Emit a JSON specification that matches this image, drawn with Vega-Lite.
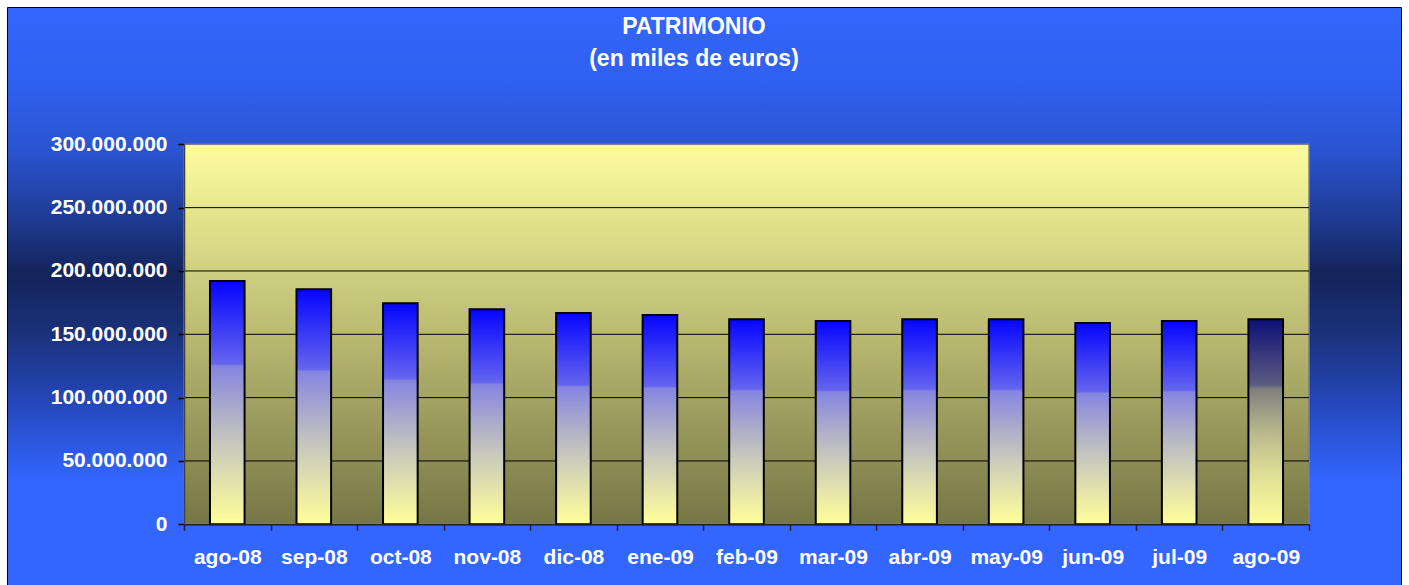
{
  "$schema": "https://vega.github.io/schema/vega-lite/v6.json",
  "width": 1394,
  "height": 578,
  "autosize": {"type": "none"},
  "padding": {"left": 7, "top": 7, "right": 8, "bottom": 0},
  "background": "white",
  "title": {
    "text": "PATRIMONIO",
    "subtitle": "(en miles de euros)",
    "anchor": "middle",
    "orient": "top",
    "offset": -64,
    "dx": -10,
    "font": "Liberation Sans",
    "fontSize": 23,
    "fontWeight": "bold",
    "color": "white",
    "subtitleFont": "Liberation Sans",
    "subtitleFontSize": 23,
    "subtitleFontWeight": "bold",
    "subtitleColor": "white",
    "subtitlePadding": 9
  },
  "config": {
    "locale": {"number": {"decimal": ",", "thousands": ".", "grouping": [3], "currency": ["", " €"]}},
    "font": "Liberation Sans",
    "view": {
      "stroke": "black",
      "strokeWidth": 1,
      "fill": {
        "gradient": "linear", "x1": 0, "y1": 0, "x2": 0, "y2": 1,
        "stops": [
          {"offset": 0, "color": "#3366ff"},
          {"offset": 0.126, "color": "#3060f0"},
          {"offset": 0.247, "color": "#2a54d0"},
          {"offset": 0.369, "color": "#1e3a90"},
          {"offset": 0.46, "color": "#13245a"},
          {"offset": 0.559, "color": "#1a3078"},
          {"offset": 0.68, "color": "#2446b8"},
          {"offset": 0.818, "color": "#3366ff"},
          {"offset": 1, "color": "#3366ff"}
        ]
      }
    }
  },
  "datasets": {
    "patrimonio": [
      {"mes": "ago-08", "patrimonio": 192000000},
      {"mes": "sep-08", "patrimonio": 185500000},
      {"mes": "oct-08", "patrimonio": 174500000},
      {"mes": "nov-08", "patrimonio": 169700000},
      {"mes": "dic-08", "patrimonio": 166800000},
      {"mes": "ene-09", "patrimonio": 165200000},
      {"mes": "feb-09", "patrimonio": 161800000},
      {"mes": "mar-09", "patrimonio": 160500000},
      {"mes": "abr-09", "patrimonio": 161800000},
      {"mes": "may-09", "patrimonio": 161800000},
      {"mes": "jun-09", "patrimonio": 158900000},
      {"mes": "jul-09", "patrimonio": 160500000},
      {"mes": "ago-09", "patrimonio": 161800000}
    ],
    "rejilla": [
      {"nivel": 50000000},
      {"nivel": 100000000},
      {"nivel": 150000000},
      {"nivel": 200000000},
      {"nivel": 250000000}
    ]
  },
  "data": {"name": "patrimonio"},
  "layer": [
    {
      "data": {"values": [{"panel": "area"}]},
      "mark": {
        "type": "rect",
        "stroke": "#808080",
        "strokeWidth": 1.5,
        "fill": {
          "gradient": "linear", "x1": 0, "y1": 0, "x2": 0, "y2": 1,
          "stops": [
            {"offset": 0, "color": "#fdfd9e"},
            {"offset": 1, "color": "#767646"}
          ]
        }
      },
      "encoding": {
        "x": {
          "datum": "ago-08",
          "type": "nominal",
          "bandPosition": 0,
          "scale": {
            "domain": ["ago-08", "sep-08", "oct-08", "nov-08", "dic-08", "ene-09", "feb-09", "mar-09", "abr-09", "may-09", "jun-09", "jul-09", "ago-09"],
            "range": [177, 1302],
            "paddingInner": 0,
            "paddingOuter": 0
          },
          "axis": {
            "title": null,
            "orient": "bottom",
            "offset": -60.7,
            "labelAngle": 0,
            "labelFont": "Liberation Sans",
            "labelFontSize": 21,
            "labelFontWeight": "bold",
            "labelColor": "white",
            "labelPadding": 16,
            "tickSize": 6,
            "tickBand": "extent",
            "tickColor": "#222222",
            "tickWidth": 1.5,
            "domainColor": "#222222",
            "domainWidth": 1.5,
            "grid": false,
            "zindex": 1
          }
        },
        "x2": {"datum": "ago-09", "bandPosition": 1},
        "y": {
          "datum": 0,
          "type": "quantitative",
          "scale": {"domain": [0, 300000000], "range": [517.3, 137.3], "nice": false, "zero": true},
          "axis": {
            "title": null,
            "values": [0, 50000000, 100000000, 150000000, 200000000, 250000000, 300000000],
            "format": ",d",
            "offset": -177,
            "labelFont": "Liberation Sans",
            "labelFontSize": 21,
            "labelFontWeight": "bold",
            "labelColor": "white",
            "labelPadding": 11,
            "labelOverlap": false,
            "tickSize": 6,
            "tickColor": "black",
            "tickWidth": 1.5,
            "domainColor": "#404040",
            "domainWidth": 1.5,
            "grid": false,
            "zindex": 1
          }
        },
        "y2": {"datum": 300000000}
      }
    },
    {
      "data": {"name": "rejilla"},
      "mark": {"type": "rule", "color": "black", "strokeWidth": 1},
      "encoding": {
        "x": {"datum": "ago-08", "type": "nominal", "bandPosition": 0},
        "x2": {"datum": "ago-09", "bandPosition": 1},
        "y": {"field": "nivel", "type": "quantitative", "axis": {"title": null}}
      }
    },
    {
      "transform": [{"filter": "datum.mes !== 'ago-09'"}],
      "mark": {
        "type": "bar",
        "width": {"band": 0.4},
        "stroke": "black",
        "strokeWidth": 2,
        "fill": {
          "gradient": "linear", "x1": 0, "y1": 0, "x2": 0, "y2": 1,
          "stops": [
            {"offset": 0, "color": "#0505ff"},
            {"offset": 0.34, "color": "#6464ee"},
            {"offset": 0.35, "color": "#8585e2"},
            {"offset": 0.55, "color": "#b0b0c8"},
            {"offset": 0.68, "color": "#cacabc"},
            {"offset": 1, "color": "#ffff99"}
          ]
        }
      },
      "encoding": {
        "x": {"field": "mes", "type": "nominal", "axis": {"title": null}},
        "y": {"field": "patrimonio", "type": "quantitative", "axis": {"title": null}}
      }
    },
    {
      "transform": [{"filter": "datum.mes === 'ago-09'"}],
      "mark": {
        "type": "bar",
        "width": {"band": 0.4},
        "stroke": "black",
        "strokeWidth": 2,
        "fill": {
          "gradient": "linear", "x1": 0, "y1": 0, "x2": 0, "y2": 1,
          "stops": [
            {"offset": 0, "color": "#0f0f78"},
            {"offset": 0.32, "color": "#5c5c80"},
            {"offset": 0.34, "color": "#80807f"},
            {"offset": 0.55, "color": "#b8b88c"},
            {"offset": 0.75, "color": "#dede96"},
            {"offset": 1, "color": "#fdfd99"}
          ]
        }
      },
      "encoding": {
        "x": {"field": "mes", "type": "nominal", "axis": {"title": null}},
        "y": {"field": "patrimonio", "type": "quantitative", "axis": {"title": null}}
      }
    }
  ]
}
